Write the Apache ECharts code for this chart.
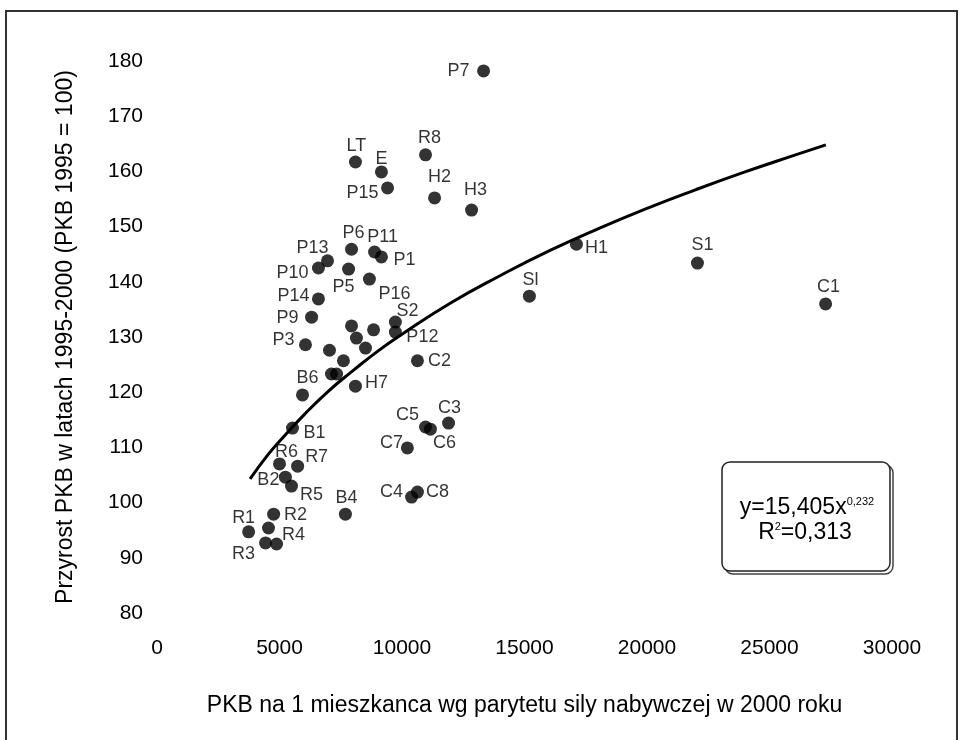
<!DOCTYPE html>
<html>
<head>
<meta charset="utf-8">
<script src="https://cdn.jsdelivr.net/npm/echarts@6/dist/echarts.min.js"></script>
<style>
  html, body { margin: 0; padding: 0; background: #fff; }
  #chart { width: 962px; height: 740px; }
</style>
</head>
<body>
<div id="chart"></div>
<script>
// regions: label, GDP per capita PPP 2000, GDP growth 1995-2000 (1995 = 100)
var regionNames = ['P7','LT','E','P15','R8','H2','H3','P6','P11','P1','P13','P10','P5','P16',
  'P14','P9','P3','','','','S2','P12','','','','','','C2','H7','B6','B1','C5','C6','C3','C7',
  'R6','R7','B2','R5','C4','C8','B4','R2','R1','','R4','R3','H1','S1','Sl','C1'];
var gdpPerCapita = [13330,8100,9160,9410,10960,11330,12840,7940,8880,9160,6960,6590,7820,8670,
  6590,6310,6060,7940,8140,8840,9730,9730,8510,7040,7610,7120,7330,10630,8100,5940,5530,10960,11160,11900,10220,
  5000,5740,5240,5490,10390,10630,7690,4760,3740,4550,4880,4430,17120,22060,15200,27290];
var gdpGrowth = [178.2,161.7,159.9,157.0,163.0,155.2,153.0,145.9,145.4,144.5,143.8,142.5,142.3,140.5,
  136.9,133.6,128.6,132.0,129.8,131.3,132.7,130.9,128.0,127.6,125.7,123.3,123.3,125.7,121.1,119.5,113.5,113.7,113.3,114.4,109.9,
  107.0,106.6,104.6,103.0,101.0,101.9,97.9,97.9,94.7,95.4,92.5,92.7,146.8,143.4,137.4,136.0];

// label offsets from the dot centre (px)
var labelOffsets = [[-25,0],[1,-16],[0,-13],[-25,5],[4,-17],[5,-21],[4,-20],[2,-16],[8,-15],[23,3],[-15,-13],[-26,5],[-5,18],[25,15],
  [-25,-3],[-24,1],[-22,-5],[0,0],[0,0],[0,0],[12,-11],[27,5],[0,0],[0,0],[0,0],[0,0],[0,0],[22,0],[21,-3],[5,-17],[22,5],[-18,-12],[14,14],[1,-15],[-16,-5],
  [7,-12],[19,-9],[-17,3],[20,9],[-20,-5],[20,0],[1,-16],[22,1],[-5,-14],[0,0],[17,-9],[-22,11],[20,4],[5,-18],[1,-16],[3,-17]];

// power trend line y = 15,405 x^0,232
var trendX = [3800,4500,5000,6000,7000,8000,9000,10000,12000,14000,16000,18000,20000,22000,24000,26000,27300];
var trendY = [104.3,108.5,111.1,115.9,120.2,123.9,127.4,130.5,136.2,141.1,145.6,149.6,153.3,156.7,159.9,162.9,164.8];

var xTicks = { min: 0, max: 30000, interval: 5000 };
var yTicks = { min: 80, max: 180, interval: 10 };

var FONT = 'Liberation Sans, Arial, sans-serif';

var chart = echarts.init(document.getElementById('chart'));

var points = [];
for (var i = 0; i < regionNames.length; i++) {
  points.push({
    value: [gdpPerCapita[i], gdpGrowth[i]],
    name: regionNames[i],
    label: { offset: labelOffsets[i] }
  });
}
var trend = [];
for (var j = 0; j < trendX.length; j++) {
  trend.push([trendX[j], trendY[j]]);
}

var option = {
  animation: false,
  backgroundColor: '#fff',
  grid: { left: 157, right: 70, top: 61, bottom: 127 },
  xAxis: {
    type: 'value',
    min: xTicks.min, max: xTicks.max, interval: xTicks.interval,
    name: 'PKB na 1 mieszkanca wg parytetu sily nabywczej w 2000 roku',
    nameLocation: 'middle',
    nameGap: 81,
    nameTextStyle: { fontFamily: FONT, fontSize: 23, color: '#000' },
    axisLine: { show: false },
    axisTick: { show: false },
    splitLine: { show: false },
    axisLabel: {
      fontFamily: FONT, fontSize: 21, color: '#000', margin: 25,
      formatter: function (v) { return String(v); }
    }
  },
  yAxis: {
    type: 'value',
    min: yTicks.min, max: yTicks.max, interval: yTicks.interval,
    name: 'Przyrost PKB w latach 1995-2000 (PKB 1995 = 100)',
    nameLocation: 'middle',
    nameGap: 80,
    nameTextStyle: { fontFamily: FONT, fontSize: 23, color: '#000' },
    axisLine: { show: false },
    axisTick: { show: false },
    splitLine: { show: false },
    axisLabel: { fontFamily: FONT, fontSize: 21, color: '#000', margin: 14 }
  },
  series: [
    {
      type: 'line',
      data: trend,
      smooth: true,
      showSymbol: false,
      lineStyle: { color: '#000', width: 3 },
      z: 3
    },
    {
      type: 'scatter',
      data: points,
      symbol: 'circle',
      symbolSize: 13,
      itemStyle: { color: '#000' },
      label: {
        show: true,
        position: 'inside',
        formatter: '{b}',
        fontFamily: FONT,
        fontSize: 18,
        color: '#000'
      },
      z: 4
    }
  ],
  graphic: [
    {
      type: 'rect',
      shape: { x: 6, y: 11, width: 951, height: 740 },
      style: { fill: 'none', stroke: '#333', lineWidth: 2 },
      silent: true
    },
    {
      type: 'rect',
      shape: { x: 725, y: 465, width: 168, height: 109, r: 8 },
      style: { fill: '#fff', stroke: '#444', lineWidth: 1.5 },
      z: 10
    },
    {
      type: 'rect',
      shape: { x: 722, y: 462, width: 168, height: 109, r: 8 },
      style: { fill: '#fff', stroke: '#222', lineWidth: 1.5 },
      z: 11
    },
    {
      type: 'text',
      x: 807, y: 508, z: 12,
      style: {
        text: 'y=15,405x{s|0,232}',
        font: '23px ' + FONT,
        fill: '#000',
        align: 'center',
        verticalAlign: 'middle',
        rich: { s: { fontSize: 11, fontFamily: FONT, verticalAlign: 'top', padding: [0, 0, 10, 0] } }
      }
    },
    {
      type: 'text',
      x: 805, y: 533, z: 12,
      style: {
        text: 'R{s|2}=0,313',
        font: '23px ' + FONT,
        fill: '#000',
        align: 'center',
        verticalAlign: 'middle',
        rich: { s: { fontSize: 11, fontFamily: FONT, verticalAlign: 'top', padding: [0, 0, 10, 0] } }
      }
    }
  ]
};

chart.setOption(option);
</script>
</body>
</html>
